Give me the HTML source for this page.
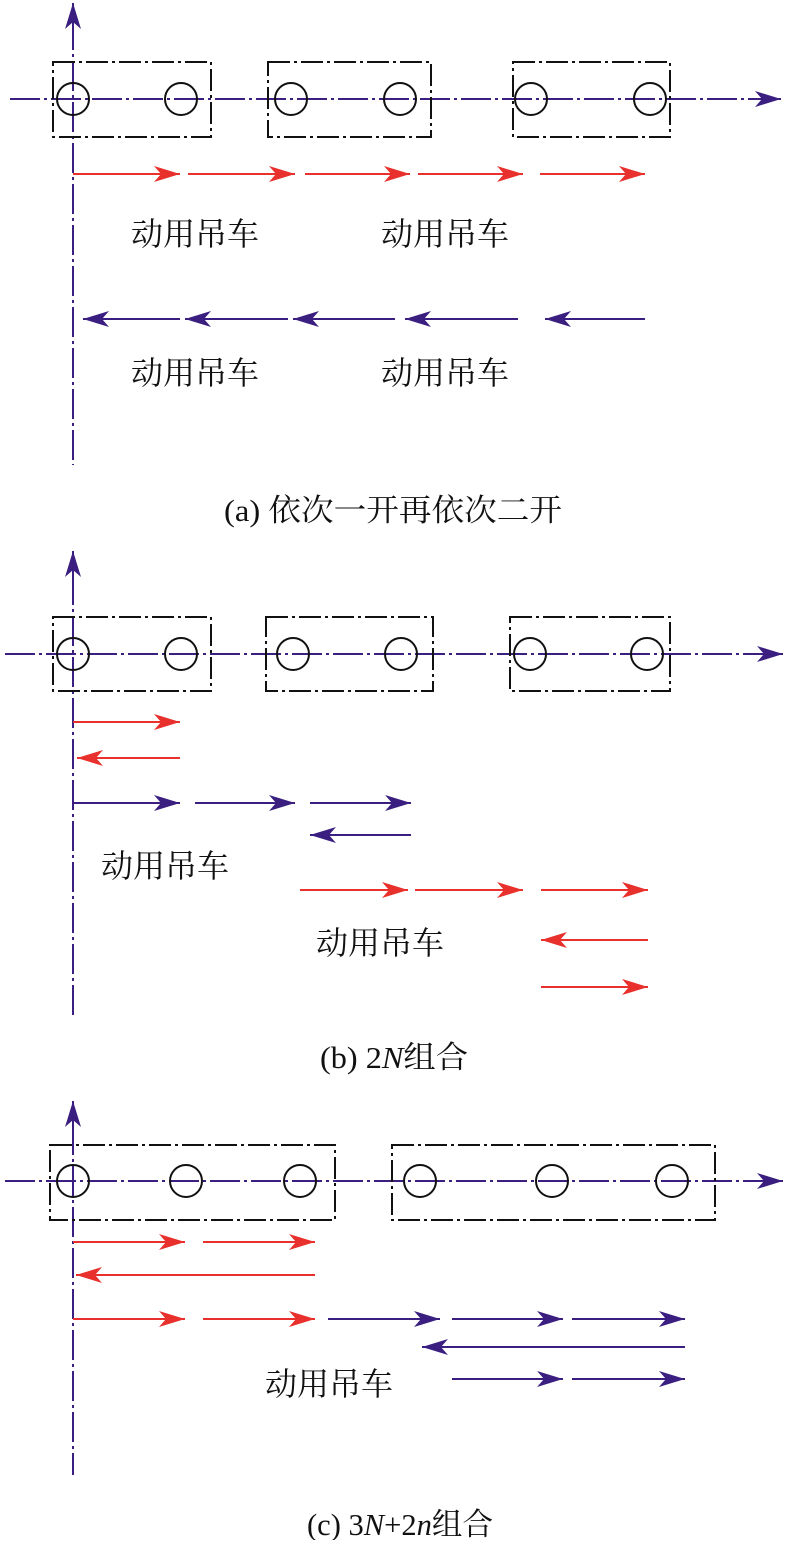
<!DOCTYPE html>
<html><head><meta charset="utf-8"><style>
html,body{margin:0;padding:0;background:#fff;}
text{font-family:"Liberation Serif","Noto Serif CJK SC",serif;}
.lb{font-family:"Liberation Serif","Noto Serif CJK SC",serif;font-size:32px;fill:#111;}
.cap{font-size:31px;fill:#111;}
</style></head><body>
<svg width="800" height="1540" viewBox="0 0 800 1540" xmlns="http://www.w3.org/2000/svg">
<defs>
<marker id="r" markerUnits="userSpaceOnUse" markerWidth="28" markerHeight="18" refX="26" refY="9" orient="auto"><path d="M0,1 L26,9 L0,17 L7,9z" fill="#e8302c"/></marker>
<marker id="p" markerUnits="userSpaceOnUse" markerWidth="28" markerHeight="18" refX="26" refY="9" orient="auto"><path d="M0,1 L26,9 L0,17 L7,9z" fill="#3a1e80"/></marker>
</defs>
<g fill="none" stroke-width="2">
<g stroke="#3a1e80" stroke-dasharray="30,4,3,4">
<line x1="73" y1="20" x2="73" y2="465"/><line x1="10" y1="99" x2="760" y2="99"/>
<line x1="73" y1="575" x2="73" y2="1018"/><line x1="5" y1="654" x2="760" y2="654"/>
<line x1="73" y1="1125" x2="73" y2="1475"/><line x1="5" y1="1181" x2="760" y2="1181"/>
</g>
<g stroke="#3a1e80">
<line x1="73" y1="30" x2="73" y2="3" marker-end="url(#p)"/><line x1="755" y1="99" x2="781" y2="99" marker-end="url(#p)"/>
<line x1="73" y1="582" x2="73" y2="551" marker-end="url(#p)"/><line x1="755" y1="654" x2="783" y2="654" marker-end="url(#p)"/>
<line x1="73" y1="1132" x2="73" y2="1101" marker-end="url(#p)"/><line x1="755" y1="1181" x2="783" y2="1181" marker-end="url(#p)"/>
</g>
<g stroke="#111" stroke-dasharray="22,4,3,4">
<rect x="53" y="62" width="158" height="75"/><rect x="268" y="62" width="163" height="75"/><rect x="513" y="62" width="157" height="75"/>
<rect x="53" y="617" width="158" height="74"/><rect x="266" y="617" width="167" height="74"/><rect x="510" y="617" width="160" height="74"/>
<rect x="50" y="1145" width="285" height="75"/><rect x="392" y="1145" width="323" height="75"/>
</g>
<g stroke="#111">
<circle cx="73" cy="99" r="16"/><circle cx="181" cy="99" r="16"/><circle cx="291" cy="99" r="16"/><circle cx="400" cy="99" r="16"/><circle cx="531" cy="99" r="16"/><circle cx="650" cy="99" r="16"/>
<circle cx="73" cy="654" r="16"/><circle cx="181" cy="654" r="16"/><circle cx="293" cy="654" r="16"/><circle cx="401" cy="654" r="16"/><circle cx="530" cy="654" r="16"/><circle cx="647" cy="654" r="16"/>
<circle cx="73" cy="1181" r="16"/><circle cx="186" cy="1181" r="16"/><circle cx="300" cy="1181" r="16"/><circle cx="420" cy="1181" r="16"/><circle cx="552" cy="1181" r="16"/><circle cx="672" cy="1181" r="16"/>
</g>
<g stroke="#e8302c" marker-end="url(#r)">
<line x1="73" y1="174" x2="180" y2="174"/><line x1="188" y1="174" x2="295" y2="174"/><line x1="305" y1="174" x2="410" y2="174"/><line x1="418" y1="174" x2="523" y2="174"/><line x1="540" y1="174" x2="645" y2="174"/>
</g>
<g stroke="#3a1e80" marker-end="url(#p)">
<line x1="180" y1="319" x2="83" y2="319"/><line x1="288" y1="319" x2="185" y2="319"/><line x1="395" y1="319" x2="293" y2="319"/><line x1="518" y1="319" x2="405" y2="319"/><line x1="645" y1="319" x2="545" y2="319"/>
</g>
<g stroke="#e8302c" marker-end="url(#r)">
<line x1="73" y1="722" x2="180" y2="722"/><line x1="180" y1="758" x2="77" y2="758"/>
<line x1="300" y1="890" x2="408" y2="890"/><line x1="415" y1="890" x2="523" y2="890"/><line x1="541" y1="890" x2="648" y2="890"/>
<line x1="648" y1="940" x2="541" y2="940"/><line x1="541" y1="987" x2="648" y2="987"/>
</g>
<g stroke="#3a1e80" marker-end="url(#p)">
<line x1="73" y1="803" x2="180" y2="803"/><line x1="195" y1="803" x2="295" y2="803"/><line x1="310" y1="803" x2="411" y2="803"/>
<line x1="411" y1="835" x2="310" y2="835"/>
</g>
<g stroke="#e8302c" marker-end="url(#r)">
<line x1="73" y1="1242" x2="185" y2="1242"/><line x1="203" y1="1242" x2="315" y2="1242"/>
<line x1="315" y1="1275" x2="76" y2="1275"/>
<line x1="73" y1="1319" x2="185" y2="1319"/><line x1="203" y1="1319" x2="315" y2="1319"/>
</g>
<g stroke="#3a1e80" marker-end="url(#p)">
<line x1="328" y1="1319" x2="440" y2="1319"/><line x1="452" y1="1319" x2="563" y2="1319"/><line x1="572" y1="1319" x2="685" y2="1319"/>
<line x1="685" y1="1347" x2="422" y2="1347"/>
<line x1="452" y1="1379" x2="563" y2="1379"/><line x1="572" y1="1379" x2="685" y2="1379"/>
</g>
</g>
<text class="lb" x="131" y="245" textLength="128" lengthAdjust="spacingAndGlyphs">动用吊车</text><text class="lb" x="381" y="245" textLength="128" lengthAdjust="spacingAndGlyphs">动用吊车</text>
<text class="lb" x="131" y="384" textLength="128" lengthAdjust="spacingAndGlyphs">动用吊车</text><text class="lb" x="381" y="384" textLength="128" lengthAdjust="spacingAndGlyphs">动用吊车</text>
<text class="lb" x="101" y="877" textLength="128" lengthAdjust="spacingAndGlyphs">动用吊车</text><text class="lb" x="316" y="954" textLength="128" lengthAdjust="spacingAndGlyphs">动用吊车</text>
<text class="lb" x="265" y="1395" textLength="128" lengthAdjust="spacingAndGlyphs">动用吊车</text>
<text class="cap" x="224" y="521" textLength="338" lengthAdjust="spacingAndGlyphs">(a) 依次一开再依次二开</text>
<text class="cap" x="320" y="1068" textLength="148" lengthAdjust="spacingAndGlyphs">(b) 2<tspan font-style="italic">N</tspan>组合</text>
<text class="cap" x="307" y="1535" textLength="186" lengthAdjust="spacingAndGlyphs">(c) 3<tspan font-style="italic">N</tspan>+2<tspan font-style="italic">n</tspan>组合</text>
</svg>
</body></html>
